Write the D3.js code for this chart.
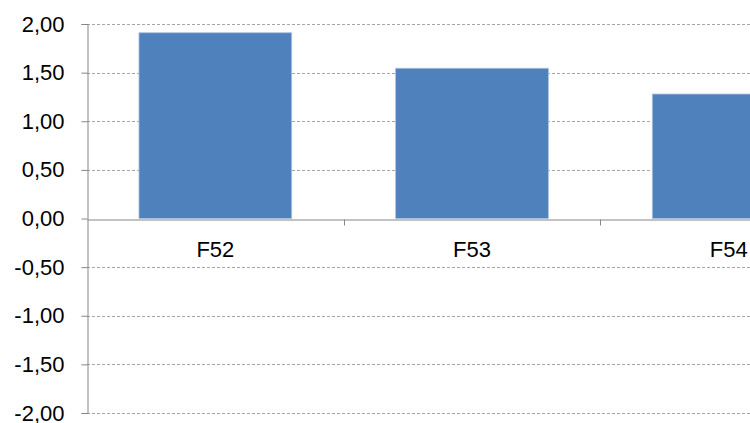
<!DOCTYPE html>
<html><head><meta charset="utf-8">
<script src="https://cdn.jsdelivr.net/npm/d3@7"></script>
<style>html,body{margin:0;padding:0;background:#fff;overflow:hidden}svg{display:block}</style>
</head><body>
<svg id="c" width="750" height="423"></svg>
<script>
const categories = ["F52", "F53", "F54"];
const values = [1.91, 1.545, 1.28];
const yTicks = [2, 1.5, 1, 0.5, 0, -0.5, -1, -1.5, -2];

(function(){
const svg = d3.select("#c");
const mL = 87, mR = 857, mT = 24, mB = 413;
const x = d3.scaleBand().domain(categories).range([mL, mR]).paddingInner(0.405).paddingOuter(0.2025);
const y = d3.scaleLinear().domain([-2, 2]).range([mB, mT]);
const fmt = v => d3.format(".2f")(v).replace(".", ",").replace("−", "-");
const font = "'Liberation Sans', Arial, sans-serif";

// gridlines
svg.append("g").selectAll("line").data(yTicks.filter(d => d !== 0)).join("line")
  .attr("x1", mL).attr("x2", 750)
  .attr("y1", d => Math.round(y(d)) + 0.5).attr("y2", d => Math.round(y(d)) + 0.5)
  .attr("stroke", "#a6a6a6").attr("stroke-width", 1).attr("stroke-dasharray", "3,2");

// bars
svg.append("g").selectAll("rect").data(values).join("rect")
  .attr("x", (d, i) => x(categories[i]))
  .attr("width", x.bandwidth())
  .attr("y", d => y(Math.max(0, d)))
  .attr("height", d => Math.abs(y(d) - y(0)))
  .attr("fill", "#4f81bd").attr("stroke", "#a9c0e0").attr("stroke-width", 0.8);

// y axis
const yAxis = d3.axisLeft(y).tickValues(yTicks).tickSize(6).tickPadding(17).tickFormat(fmt);
const gy = svg.append("g").attr("transform", `translate(${mL + 0.5},0)`).call(yAxis);
gy.select(".domain").attr("stroke", "#868686");
gy.selectAll(".tick line").attr("stroke", "#868686");
gy.selectAll("text").attr("fill", "#000").style("font-family", font).style("font-size", "22px");

// x axis at zero
const xAxis = d3.axisBottom(x).tickSize(0).tickPadding(22);
const gx = svg.append("g").attr("transform", `translate(0,${Math.round(y(0)) + 0.5})`).call(xAxis);
gx.select(".domain").attr("stroke", "#868686");
gx.selectAll("text").attr("fill", "#000").style("font-family", font).style("font-size", "22px");
// category boundary ticks
const step = x.step();
const bounds = d3.range(0, categories.length + 1).map(i => mL + i * step);
gx.append("g").selectAll("line").data(bounds.slice(1)).join("line")
  .attr("x1", d => Math.round(d) + 0.5).attr("x2", d => Math.round(d) + 0.5)
  .attr("y1", 0).attr("y2", 6).attr("stroke", "#868686");
})();
</script>
</body></html>
